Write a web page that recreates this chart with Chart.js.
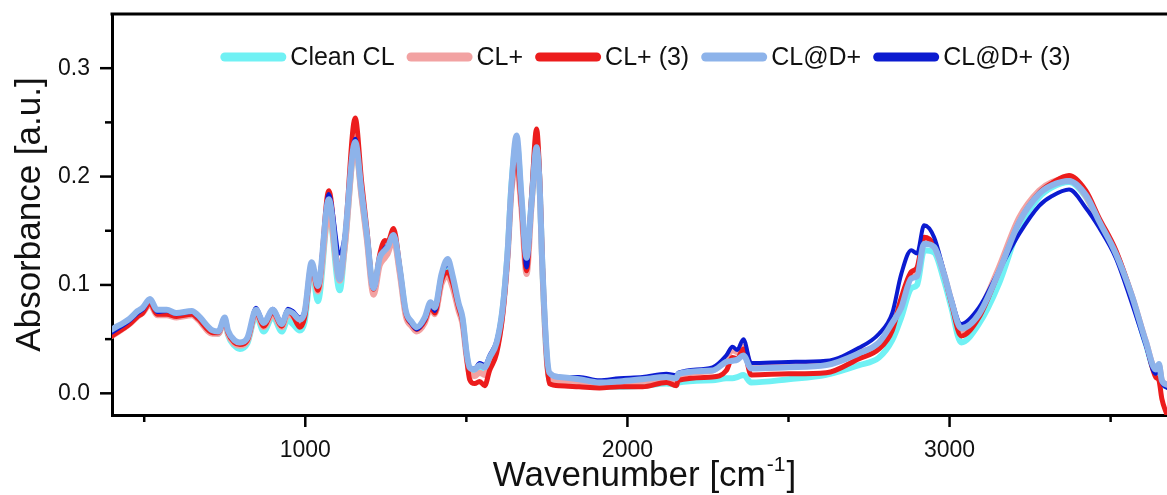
<!DOCTYPE html>
<html>
<head>
<meta charset="utf-8">
<script src="https://cdn.jsdelivr.net/npm/chart.js@4.4.0/dist/chart.umd.min.js"></script>
<style>
    html, body { margin: 0; padding: 0; background: #fff; }
    #wrap { width: 1167px; height: 495px; position: relative; }
</style>
</head>
<body>
<div id="wrap"><canvas id="spectra"></canvas></div>
<script>
// ===== FTIR absorbance spectra of the CL samples =====

const wavenumbers = [
    400, 455, 480, 495, 518, 540, 570, 600, 648, 667,
    712, 730, 750, 760, 780, 797, 820, 847, 871, 899,
    927, 946, 961, 983, 998, 1020, 1039, 1073, 1107, 1122,
    1155, 1175, 1191, 1212, 1231, 1247, 1256, 1274, 1293, 1312,
    1330, 1346, 1371, 1389, 1402, 1423, 1442, 1457, 1476, 1488,
    1501, 1510, 1526, 1541, 1557, 1572, 1594, 1612, 1628, 1640,
    1656, 1671, 1687, 1702, 1718, 1727, 1736, 1749, 1758, 1789,
    1850, 1913, 1975, 2047, 2121, 2152, 2158, 2264, 2307, 2326,
    2341, 2360, 2384, 2500, 2617, 2719, 2781, 2822, 2850, 2881,
    2899, 2921, 2952, 2983, 3005, 3036, 3091, 3153, 3216, 3278,
    3318, 3371, 3423, 3464, 3516, 3566, 3609, 3640, 3650, 3659, 3675,
];

const cleanCL = [
    .055, .066, .073, .076, .085, .075, .075, .072, .074, .070,
    .056, .055, .068, .054, .044, .041, .046, .072, .057, .071,
    .057, .068, .064, .058, .066, .116, .085, .167, .095, .133,
    .229, .182, .145, .095, .123, .130, .133, .144, .114, .074,
    .064, .059, .068, .082, .077, .107, .118, .105, .080, .068,
    .035, .021, .019, .023, .021, .031, .045, .076, .130, .192,
    .232, .178, .120, .175, .230, .195, .115, .035, .012, .009,
    .008, .006, .006, .007, .009, .008, .010, .012, .014, .014,
    .015, .017, .010, .013, .017, .026, .033, .049, .070, .097,
    .100, .132, .130, .104, .080, .047, .064, .101, .153, .181,
    .190, .195, .181, .157, .128, .088, .046, .020, .024, .010, .006,
];

const clPlus = [
    .053, .064, .071, .074, .082, .072, .072, .070, .072, .068,
    .055, .055, .068, .055, .046, .044, .048, .074, .061, .073,
    .061, .073, .071, .066, .073, .117, .094, .167, .104, .133,
    .229, .180, .142, .091, .118, .125, .129, .142, .111, .071,
    .062, .057, .065, .079, .073, .101, .108, .098, .076, .064,
    .033, .018, .016, .019, .017, .027, .042, .073, .126, .186,
    .210, .170, .110, .172, .225, .195, .115, .034, .013, .011,
    .010, .008, .009, .011, .013, .012, .016, .021, .033, .040,
    .038, .043, .025, .025, .027, .038, .045, .063, .085, .109,
    .112, .141, .136, .110, .086, .058, .075, .116, .162, .187,
    .195, .198, .182, .158, .130, .090, .048, .022, .026, .012, .008,
];

const clPlus3 = [
    .053, .064, .071, .074, .083, .073, .073, .071, .073, .069,
    .056, .056, .068, .056, .047, .045, .049, .075, .062, .075,
    .062, .076, .072, .061, .070, .119, .095, .187, .110, .140,
    .254, .195, .152, .096, .128, .141, .140, .152, .117, .074,
    .064, .059, .067, .080, .074, .104, .112, .102, .079, .066,
    .033, .013, .009, .011, .007, .021, .037, .070, .125, .188,
    .216, .172, .113, .180, .244, .205, .120, .033, .009, .007,
    .006, .005, .006, .006, .010, .007, .012, .015, .021, .033,
    .032, .041, .017, .018, .019, .032, .041, .058, .088, .112,
    .116, .144, .137, .110, .084, .053, .070, .112, .158, .185,
    .194, .201, .187, .162, .132, .090, .047, .015, .012, -.005, -.020,
];

const clAtD = [
    .059, .069, .076, .079, .087, .077, .077, .074, .076, .072,
    .058, .057, .070, .058, .049, .047, .051, .077, .065, .077,
    .064, .076, .074, .068, .075, .121, .099, .179, .105, .140,
    .232, .185, .147, .097, .125, .132, .135, .146, .116, .076,
    .066, .061, .070, .084, .079, .110, .124, .109, .083, .070,
    .037, .024, .022, .026, .024, .033, .047, .077, .130, .192,
    .238, .182, .125, .175, .227, .195, .118, .040, .019, .015,
    .013, .010, .011, .013, .015, .014, .018, .021, .029, .030,
    .031, .035, .023, .024, .026, .037, .047, .065, .079, .106,
    .108, .138, .135, .110, .086, .060, .073, .112, .158, .184,
    .192, .196, .183, .159, .129, .090, .048, .022, .027, .012, .008,
];

const clAtD3 = [
    .056, .067, .074, .077, .086, .075, .076, .073, .075, .071,
    .058, .057, .069, .057, .049, .047, .051, .079, .066, .078,
    .066, .078, .076, .070, .077, .121, .101, .184, .129, .145,
    .235, .186, .147, .098, .125, .134, .137, .146, .116, .075,
    .064, .059, .068, .082, .076, .107, .119, .107, .082, .069,
    .037, .023, .023, .028, .026, .035, .049, .079, .132, .193,
    .230, .180, .116, .170, .216, .190, .116, .037, .018, .015,
    .015, .012, .014, .015, .018, .017, .019, .024, .035, .043,
    .040, .050, .028, .029, .030, .042, .055, .074, .110, .132,
    .129, .155, .144, .112, .088, .064, .079, .113, .147, .173,
    .182, .188, .171, .153, .125, .083, .044, .018, .024, .010, .005,
];

const xMajorTicks = [1000, 2000, 3000];
const xMinorTicks = [500, 1500, 2500, 3500];
const yMajorTicks = [0, 0.1, 0.2, 0.3];
const yMinorTicks = [0.05, 0.15, 0.25];

const FONT = 'Liberation Sans, Arial, Helvetica, sans-serif';

function toPoints(values) {
    return wavenumbers.map((w, i) => ({ x: w, y: values[i] }));
}

function series(label, values, color, width, order) {
    return {
        label,
        data: toPoints(values),
        borderColor: color,
        backgroundColor: color,
        borderWidth: width,
        pointRadius: 0,
        cubicInterpolationMode: 'monotone',
        borderCapStyle: 'round',
        borderJoinStyle: 'round',
        order,
    };
}

/** Frame, tick marks, x labels, legend and the x-axis title (with superscript) */
const decorations = {
    id: 'decorations',
    afterDatasetsDraw(chart) {
        const { ctx, chartArea: a } = chart;
        ctx.save();
        ctx.font = `25px ${FONT}`;
        const swatchW = 66, swatchGap = 4, itemGap = 12;
        const items = chart.data.datasets.map(ds => ({ ds, w: ctx.measureText(ds.label).width }));
        const total = items.reduce((s, it) => s + swatchW + swatchGap + it.w, 0) + itemGap * (items.length - 1);
        let x = (a.left + a.right) / 2 - total / 2 + 6;
        const y = a.top + 43;
        ctx.textBaseline = 'middle';
        ctx.textAlign = 'left';
        items.forEach(({ ds, w }) => {
            ctx.strokeStyle = ds.borderColor;
            ctx.lineWidth = 9;
            ctx.lineCap = 'round';
            ctx.beginPath();
            ctx.moveTo(x + 4.5, y);
            ctx.lineTo(x + swatchW - 4.5, y);
            ctx.stroke();
            ctx.fillStyle = '#111';
            ctx.fillText(ds.label, x + swatchW + swatchGap, y + 1);
            x += swatchW + swatchGap + w + itemGap;
        });
        ctx.restore();
    },
    afterDraw(chart) {
        const { ctx, chartArea: a, scales: { x, y } } = chart;
        ctx.save();
        ctx.strokeStyle = '#000';
        ctx.lineCap = 'butt';

        // top border (the right side is open)
        ctx.lineWidth = 3;
        ctx.beginPath();
        ctx.moveTo(a.left - 1.5, a.top);
        ctx.lineTo(a.right, a.top);
        ctx.stroke();

        // outward tick marks
        ctx.lineWidth = 2.5;
        const tickX = (v, len) => {
            const px = x.getPixelForValue(v);
            ctx.beginPath();
            ctx.moveTo(px, a.bottom);
            ctx.lineTo(px, a.bottom + len);
            ctx.stroke();
        };
        const tickY = (v, len) => {
            const py = y.getPixelForValue(v);
            ctx.beginPath();
            ctx.moveTo(a.left, py);
            ctx.lineTo(a.left - len, py);
            ctx.stroke();
        };
        xMajorTicks.forEach(v => tickX(v, 12));
        xMinorTicks.forEach(v => tickX(v, 7));
        yMajorTicks.forEach(v => tickY(v, 12));
        yMinorTicks.forEach(v => tickY(v, 7));

        // x tick labels
        ctx.fillStyle = '#111';
        ctx.font = `23px ${FONT}`;
        ctx.textAlign = 'center';
        ctx.textBaseline = 'middle';
        xMajorTicks.forEach(v => ctx.fillText(String(v), x.getPixelForValue(v), a.bottom + 36));

        // x title: Wavenumber [cm^-1]
        const big = 35, small = 21;
        ctx.textBaseline = 'alphabetic';
        ctx.textAlign = 'left';
        ctx.font = `${big}px ${FONT}`;
        const w1 = ctx.measureText('Wavenumber [cm').width;
        const w3 = ctx.measureText(']').width;
        ctx.font = `${small}px ${FONT}`;
        const w2 = ctx.measureText('-1').width;
        let tx = (a.left + a.right) / 2 + 4 - (w1 + w2 + w3) / 2;
        const base = a.bottom + 71;
        ctx.font = `${big}px ${FONT}`;
        ctx.fillText('Wavenumber [cm', tx, base);
        tx += w1;
        ctx.font = `${small}px ${FONT}`;
        ctx.fillText('-1', tx + 1, base - 15);
        tx += w2 + 2;
        ctx.font = `${big}px ${FONT}`;
        ctx.fillText(']', tx, base);
        ctx.restore();
    },
};

const ctx = document.getElementById('spectra').getContext('2d');

new Chart(ctx, {
    type: 'line',
    data: {
        datasets: [
            series('Clean CL', cleanCL, '#70F1F4', 6, 4),
            series('CL+', clPlus, '#F2A2A2', 6, 3),
            series('CL+ (3)', clPlus3, '#EC1C1C', 5, 2),
            series('CL@D+', clAtD, '#8DB3EA', 6, 0),
            series('CL@D+ (3)', clAtD3, '#0B1BD0', 4, 1),
        ],
    },
    options: {
        responsive: true,
        maintainAspectRatio: false,
        animation: false,
        events: [],
        layout: { padding: { top: 14, left: 0, right: 0, bottom: 0 } },
        plugins: {
            legend: { display: false },
            tooltip: { enabled: false },
        },
        scales: {
            x: {
                type: 'linear',
                min: 400,
                max: 3675,
                afterBuildTicks: (s) => { s.ticks = xMajorTicks.map(v => ({ value: v })); },
                afterFit: (s) => { s.height = 80; s.paddingLeft = 0; s.paddingRight = 0; },
                grid: { display: true, drawOnChartArea: false, drawTicks: false },
                border: { display: true, color: '#000', width: 3 },
                ticks: { display: false },
            },
            y: {
                type: 'linear',
                min: -0.02,
                max: 0.35,
                afterBuildTicks: (s) => { s.ticks = yMajorTicks.map(v => ({ value: v })); },
                afterFit: (s) => { s.width = 112; s.paddingTop = 0; s.paddingBottom = 0; },
                grid: { display: true, drawOnChartArea: false, drawTicks: false },
                border: { display: true, color: '#000', width: 3 },
                title: {
                    display: true,
                    text: 'Absorbance [a.u.]',
                    color: '#111',
                    font: { size: 35, family: FONT },
                    padding: { top: 9, bottom: 0 },
                },
                ticks: {
                    color: '#111',
                    padding: 22,
                    font: { size: 23, family: FONT },
                    callback: (v) => v.toFixed(1),
                },
            },
        },
    },
    plugins: [decorations],
});
</script>
</body>
</html>
